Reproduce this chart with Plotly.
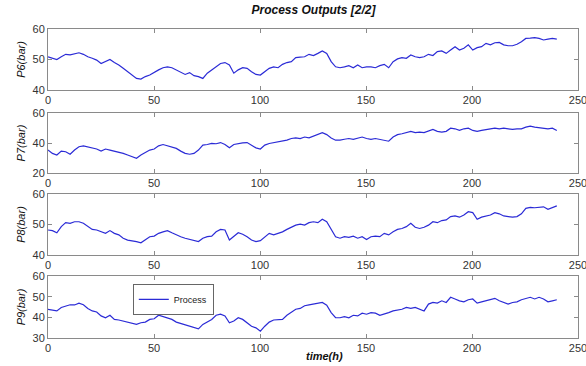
import numpy as np
import plotly.graph_objects as go
from plotly.subplots import make_subplots

# Process output pressures (bar), sampled on a regular grid over 0-240 h
p6 = [50.9, 50.4, 50.0, 50.9, 51.7, 51.5, 51.9, 52.2, 51.7, 50.9, 50.4, 49.8, 48.7, 49.3, 50.0, 49.0,
      48.2, 47.1, 46.0, 44.9, 43.8, 43.6, 44.4, 44.9, 45.8, 46.6, 47.3, 47.6, 47.3, 46.6, 45.8, 45.1,
      45.7, 44.7, 44.4, 43.8, 45.5, 46.6, 47.6, 48.7, 49.0, 48.2, 45.5, 46.6, 47.3, 47.1, 46.0, 45.1,
      44.9, 46.0, 47.1, 47.6, 47.3, 48.4, 49.0, 49.3, 50.6, 50.8, 50.9, 51.7, 51.3, 52.0, 52.8, 52.0,
      49.3, 47.6, 47.3, 47.6, 48.0, 47.3, 48.2, 47.3, 47.6, 47.6, 47.3, 48.0, 48.4, 47.3, 49.3, 50.2,
      50.6, 50.4, 51.5, 50.9, 50.6, 50.9, 51.7, 51.3, 52.6, 52.8, 52.0, 53.1, 54.2, 53.1, 53.7, 54.8,
      53.1, 53.9, 54.2, 55.3, 54.8, 55.5, 55.6, 54.8, 54.5, 54.5, 55.0, 55.8, 56.9, 57.0, 57.2, 56.9,
      56.4, 56.7, 56.9, 56.7]
p7 = [35.3, 33.1, 32.0, 34.6, 34.2, 32.5, 35.3, 37.5, 38.1, 37.5, 36.8, 36.0, 34.6, 36.0, 35.3, 34.6,
      34.2, 33.1, 32.0, 30.9, 29.8, 32.0, 33.8, 35.3, 36.0, 38.1, 39.0, 38.1, 37.5, 36.4, 34.6, 33.1,
      32.5, 33.1, 35.3, 38.6, 39.0, 39.7, 39.5, 40.3, 39.0, 36.8, 39.0, 39.7, 40.1, 40.3, 38.6, 36.8,
      36.0, 38.6, 39.7, 40.3, 40.8, 41.2, 41.9, 43.0, 43.4, 43.0, 44.0, 43.4, 44.7, 45.6, 46.9, 45.6,
      43.4, 41.9, 41.9, 42.5, 43.0, 42.5, 43.4, 44.0, 43.0, 42.5, 43.0, 42.5, 41.9, 41.2, 44.0, 45.6,
      46.2, 46.9, 47.8, 46.9, 47.3, 46.9, 47.8, 49.1, 47.8, 47.3, 47.8, 49.9, 49.5, 48.4, 49.5, 49.9,
      48.4, 47.8, 48.4, 49.1, 49.5, 49.9, 49.5, 49.9, 49.5, 49.1, 49.5, 49.5, 50.6, 51.3, 50.6, 50.2,
      49.9, 49.5, 49.9, 48.4]
p8 = [48.2, 48.0, 47.3, 49.3, 50.6, 50.4, 50.9, 50.9, 50.4, 49.3, 48.4, 48.2, 47.6, 47.1, 48.0, 47.1,
      46.6, 45.5, 44.9, 44.7, 44.4, 44.0, 45.1, 46.0, 46.2, 47.1, 47.6, 48.0, 47.3, 46.6, 46.0, 45.5,
      45.1, 44.9, 44.4, 45.5, 46.0, 46.2, 47.6, 48.4, 48.2, 44.9, 46.2, 47.3, 46.8, 46.0, 44.9, 44.4,
      44.7, 46.0, 47.1, 46.6, 47.1, 47.6, 48.4, 49.1, 49.8, 50.1, 49.8, 50.6, 50.9, 50.6, 51.7, 50.9,
      48.2, 46.0, 45.5, 46.0, 45.8, 46.2, 45.5, 46.0, 45.1, 46.0, 46.2, 46.0, 47.1, 46.6, 47.6, 48.4,
      48.7, 49.3, 50.4, 49.1, 48.7, 49.1, 49.8, 50.9, 50.6, 51.3, 51.5, 52.6, 52.8, 52.4, 53.1, 54.2,
      53.9, 51.7, 52.4, 52.8, 53.1, 53.9, 53.5, 52.8, 52.6, 52.4, 52.6, 53.5, 55.3, 55.6, 55.5, 55.6,
      55.8, 55.0, 55.6, 56.1]
p9 = [43.9, 43.6, 43.1, 44.8, 45.6, 46.1, 46.0, 46.9, 46.1, 44.3, 43.1, 42.6, 40.7, 39.8, 41.0, 39.0,
      38.7, 38.2, 37.7, 37.4, 36.6, 37.4, 37.7, 39.0, 39.3, 41.0, 40.3, 39.8, 39.0, 37.7, 37.0, 36.6,
      35.7, 34.9, 34.4, 36.6, 37.7, 39.0, 41.0, 41.5, 40.7, 37.4, 38.2, 39.8, 39.0, 37.4, 35.7, 34.9,
      33.3, 35.7, 37.7, 38.7, 39.0, 39.0, 41.0, 42.3, 43.9, 44.3, 45.6, 46.0, 46.4, 46.9, 47.2, 45.9,
      42.3, 39.8, 39.8, 40.3, 39.8, 41.0, 40.7, 42.0, 41.5, 42.3, 42.0, 41.0, 41.5, 42.3, 43.1, 43.6,
      43.9, 44.8, 44.3, 44.8, 43.9, 43.1, 46.4, 47.2, 46.9, 48.0, 47.2, 49.7, 48.9, 48.0, 47.5, 48.5,
      48.9, 46.9, 47.5, 48.0, 48.5, 49.2, 48.0, 47.2, 46.4, 47.2, 47.5, 48.5, 49.2, 49.7, 48.9, 49.7,
      48.9, 47.5, 48.0, 48.5]

time_h = np.linspace(0, 240, len(p6))

series = [p6, p7, p8, p9]
y_titles = ["P6(bar)", "P7(bar)", "P8(bar)", "P9(bar)"]
y_ranges = [[40, 60], [20, 60], [40, 60], [30, 60]]
y_ticks = [[40, 50, 60], [20, 40, 60], [40, 50, 60], [30, 40, 50, 60]]
x_ticks = [0, 50, 100, 150, 200, 250]

# vertical placement of the four stacked panels (paper fractions)
domains = [[0.8026, 1.0], [0.534, 0.728], [0.2686, 0.466], [0.0, 0.2006]]

line_color = "#2b2bd6"
axis_color = "#8a8a8a"
base_font = "Liberation Sans, Arial, sans-serif"
tick_font = dict(family=base_font, size=11, color="#333333")

fig = make_subplots(rows=4, cols=1, shared_xaxes=False)

for i, (vals, title, yr, yt, dom) in enumerate(zip(series, y_titles, y_ranges, y_ticks, domains)):
    row = i + 1
    fig.add_trace(
        go.Scatter(
            x=time_h, y=vals, mode="lines",
            line=dict(color=line_color, width=1.2),
            name="Process", showlegend=(row == 4),
        ),
        row=row, col=1,
    )
    fig.update_xaxes(
        range=[0, 250], tickvals=x_ticks,
        ticks="inside", ticklen=4, ticklabeloverflow="allow",
        tickcolor=axis_color, showline=True, linecolor=axis_color, linewidth=1,
        mirror="ticks", showgrid=False, zeroline=False, tickfont=tick_font,
        automargin=False,
        row=row, col=1,
    )
    fig.update_yaxes(
        range=yr, tickvals=yt, ticks="inside", ticklen=4,
        tickcolor=axis_color, showline=True, linecolor=axis_color, linewidth=1,
        mirror="ticks", showgrid=False, zeroline=False, tickfont=tick_font,
        domain=dom, automargin=False,
        title=dict(text=f"<i>{title}</i>", standoff=4,
                   font=dict(family=base_font, size=11, color="#111111")),
        row=row, col=1,
    )

fig.update_layout(
    width=586, height=366,
    margin=dict(l=48, r=8, t=29, b=28),
    paper_bgcolor="white", plot_bgcolor="white",
    title=dict(
        text="<b><i>Process Outputs [2/2]</i></b>",
        x=0.535, xanchor="center", y=0.972, yanchor="middle",
        font=dict(family=base_font, size=12, color="#111111"),
    ),
    legend=dict(
        x=0.16, y=0.175, xanchor="left", yanchor="top",
        bgcolor="white", bordercolor="#666666", borderwidth=1,
        font=dict(family=base_font, size=9, color="#222222"),
        itemwidth=30, tracegroupgap=0,
    ),
    annotations=[
        dict(text="<b><i>time(h)</i></b>", xref="paper", yref="paper",
             x=0.522, y=-0.058, xanchor="center", yanchor="middle", showarrow=False,
             font=dict(family=base_font, size=11, color="#111111")),
    ],
)

fig.write_html("out.html")
